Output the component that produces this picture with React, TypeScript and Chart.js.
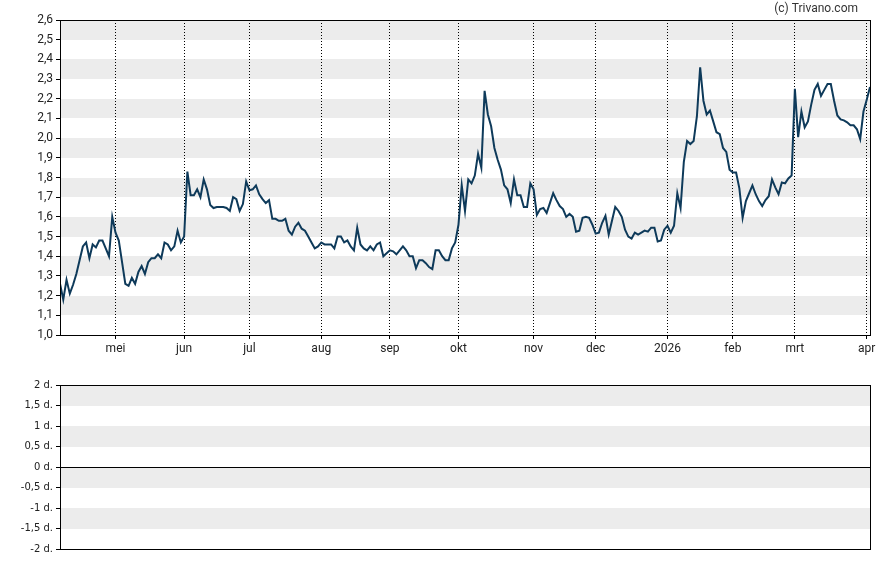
import React, { useEffect, useRef } from "react";
import { Chart, registerables } from "chart.js";

Chart.register(...registerables);

// Closing values, one per trading day (index 0 .. 248)
const closes: number[] = [
  // 0-9
  1.26, 1.18, 1.28, 1.21, 1.255, 1.31, 1.38, 1.45, 1.47, 1.39,
  // 10-19
  1.46, 1.445, 1.48, 1.48, 1.44, 1.40, 1.60, 1.52, 1.48, 1.37,
  // 20-29
  1.26, 1.25, 1.29, 1.26, 1.32, 1.35, 1.31, 1.37, 1.39, 1.39,
  // 30-39
  1.41, 1.39, 1.47, 1.46, 1.43, 1.45, 1.53, 1.47, 1.50, 1.83,
  // 40-49
  1.71, 1.71, 1.74, 1.70, 1.79, 1.74, 1.66, 1.645, 1.65, 1.65,
  // 50-59
  1.65, 1.645, 1.63, 1.70, 1.69, 1.63, 1.665, 1.78, 1.735, 1.74,
  // 60-69
  1.76, 1.715, 1.69, 1.67, 1.685, 1.59, 1.59, 1.58, 1.58, 1.59,
  // 70-79
  1.53, 1.51, 1.55, 1.57, 1.54, 1.53, 1.50, 1.47, 1.44, 1.45,
  // 80-89
  1.47, 1.46, 1.46, 1.46, 1.44, 1.50, 1.50, 1.47, 1.48, 1.45,
  // 90-99
  1.43, 1.545, 1.46, 1.44, 1.43, 1.45, 1.43, 1.46, 1.47, 1.40,
  // 100-109
  1.415, 1.43, 1.425, 1.41, 1.43, 1.45, 1.43, 1.40, 1.40, 1.34,
  // 110-119
  1.38, 1.38, 1.365, 1.345, 1.335, 1.43, 1.43, 1.40, 1.38, 1.38,
  // 120-129
  1.44, 1.47, 1.56, 1.76, 1.63, 1.79, 1.77, 1.81, 1.92, 1.85,
  // 130-139
  2.24, 2.12, 2.06, 1.95, 1.89, 1.84, 1.76, 1.74, 1.67, 1.79,
  // 140-149
  1.71, 1.71, 1.65, 1.65, 1.77, 1.74, 1.61, 1.64, 1.645, 1.62,
  // 150-159
  1.67, 1.72, 1.685, 1.655, 1.64, 1.60, 1.615, 1.60, 1.525, 1.53,
  // 160-169
  1.595, 1.60, 1.595, 1.56, 1.515, 1.52, 1.57, 1.605, 1.51, 1.58,
  // 170-179
  1.65, 1.63, 1.60, 1.535, 1.50, 1.49, 1.52, 1.51, 1.52, 1.53,
  // 180-189
  1.525, 1.545, 1.545, 1.475, 1.48, 1.535, 1.555, 1.52, 1.555, 1.72,
  // 190-199
  1.645, 1.88, 1.985, 1.97, 1.985, 2.11, 2.36, 2.19, 2.12, 2.14,
  // 200-209
  2.085, 2.03, 2.02, 1.95, 1.93, 1.84, 1.825, 1.825, 1.745, 1.595,
  // 210-219
  1.68, 1.72, 1.76, 1.715, 1.68, 1.655, 1.685, 1.705, 1.79, 1.75,
  // 220-229
  1.715, 1.775, 1.77, 1.795, 1.81, 2.25, 2.005, 2.135, 2.055, 2.085,
  // 230-239
  2.17, 2.245, 2.275, 2.215, 2.245, 2.275, 2.275, 2.19, 2.115, 2.095,
  // 240-248
  2.09, 2.08, 2.065, 2.065, 2.045, 1.995, 2.135, 2.195, 2.26,
];

// First trading day of each month (index into closes) and its label
const monthStarts: number[] = [17, 38, 58, 80, 101, 122, 145, 164, 186, 206, 225, 247];
const monthLabels: string[] = ["mei", "jun", "jul", "aug", "sep", "okt", "nov", "dec", "2026", "feb", "mrt", "apr"];

// Price axis
const priceMin = 1.0;
const priceMax = 2.6;
const priceStep = 0.1;

// Lower panel axis
const lowerMin = -2;
const lowerMax = 2;
const lowerStep = 0.5;

const copyright = "(c) Trivano.com";

const LINE_COLOR = "#0e3a5a";
const BAND_COLOR = "#ececec";
const TEXT_COLOR = "#222";

const bandsPlugin = {
  id: "bands",
  beforeDraw(chart: any) {
    const { ctx, chartArea } = chart;
    const y = chart.scales.y;
    const ticks = y.ticks;
    ctx.save();
    ctx.fillStyle = BAND_COLOR;
    for (let k = 1; k < ticks.length - 1; k += 2) {
      const a = Math.round(y.getPixelForValue(ticks[k].value));
      const b = Math.round(y.getPixelForValue(ticks[k + 1].value));
      ctx.fillRect(chartArea.left, b, chartArea.right - chartArea.left, a - b);
    }
    ctx.restore();
  },
};

const borderPlugin = {
  id: "frame",
  afterDraw(chart: any) {
    const { ctx, chartArea } = chart;
    ctx.save();
    ctx.strokeStyle = "#000";
    ctx.lineWidth = 1;
    ctx.strokeRect(
      Math.round(chartArea.left) + 0.5,
      Math.round(chartArea.top) + 0.5,
      Math.round(chartArea.right) - Math.round(chartArea.left),
      Math.round(chartArea.bottom) - Math.round(chartArea.top)
    );
    ctx.restore();
  },
};

const copyrightPlugin = {
  id: "copyright",
  afterDraw(chart: any) {
    const { ctx, chartArea } = chart;
    ctx.save();
    ctx.font = "12px Roboto";
    ctx.fillStyle = "#333";
    ctx.textAlign = "right";
    ctx.textBaseline = "middle";
    ctx.fillText(copyright, chartArea.right - 12, 9);
    ctx.restore();
  },
};

const fmtComma = (v: number, digits: number) =>
  Number(v).toFixed(digits).replace(".", ",");

function PriceChart() {
  const ref = useRef<HTMLCanvasElement | null>(null);
  useEffect(() => {
    if (!ref.current) return;
    const chart = new Chart(ref.current, {
      type: "line",
      data: {
        datasets: [
          {
            data: closes.map((v, i) => ({ x: i, y: v })),
            borderColor: LINE_COLOR,
            borderWidth: 2,
            pointRadius: 0,
            tension: 0,
            fill: false,
          },
        ],
      },
      options: {
        animation: false,
        responsive: false,
        maintainAspectRatio: false,
        layout: { padding: { top: 20, right: 18, left: 0, bottom: 0 } },
        plugins: { legend: { display: false }, tooltip: { enabled: false } },
        scales: {
          x: {
            type: "linear",
            min: 0,
            max: closes.length - 1,
            afterBuildTicks: (scale: any) => {
              scale.ticks = monthStarts.map((v) => ({ value: v }));
            },
            afterFit: (scale: any) => {
              scale.height = 30;
            },
            ticks: {
              autoSkip: false,
              maxRotation: 0,
              color: TEXT_COLOR,
              font: { family: "Roboto", size: 12 },
              padding: 3,
              callback: (_v: any, i: number) => monthLabels[i] ?? "",
            },
            grid: {
              color: "#000",
              lineWidth: 1,
              drawTicks: true,
              tickLength: 4,
              tickColor: "#000",
            },
            border: { display: false, dash: [1, 2] },
          },
          y: {
            type: "linear",
            min: priceMin,
            max: priceMax,
            afterFit: (scale: any) => {
              scale.width = 60;
            },
            ticks: {
              stepSize: priceStep,
              color: TEXT_COLOR,
              font: { family: "Roboto", size: 12 },
              padding: 3,
              callback: (v: any) => fmtComma(v, 1),
            },
            grid: {
              drawOnChartArea: false,
              drawTicks: true,
              tickLength: 4,
              color: "#000",
            },
            border: { display: false },
          },
        },
      },
      plugins: [bandsPlugin, borderPlugin, copyrightPlugin],
    } as any);
    return () => chart.destroy();
  }, []);
  return <canvas ref={ref} width={888} height={365} style={{ display: "block" }} />;
}

function LowerChart() {
  const ref = useRef<HTMLCanvasElement | null>(null);
  useEffect(() => {
    if (!ref.current) return;
    const chart = new Chart(ref.current, {
      type: "line",
      data: { datasets: [{ data: [] }] },
      options: {
        animation: false,
        responsive: false,
        maintainAspectRatio: false,
        layout: { padding: { top: 20, right: 18, left: 0, bottom: 16 } },
        plugins: { legend: { display: false }, tooltip: { enabled: false } },
        scales: {
          x: {
            type: "linear",
            min: 0,
            max: closes.length - 1,
            display: false,
          },
          y: {
            type: "linear",
            min: lowerMin,
            max: lowerMax,
            afterFit: (scale: any) => {
              scale.width = 60;
            },
            ticks: {
              stepSize: lowerStep,
              color: TEXT_COLOR,
              font: { family: "DejaVu Sans", size: 10 },
              padding: 3,
              callback: (v: any) => {
                const n = Number(v);
                const s = Number.isInteger(n) ? String(n) : fmtComma(n, 1);
                return s + " d.";
              },
            },
            grid: {
              drawTicks: true,
              tickLength: 4,
              tickColor: "#000",
              color: (ctx: any) => (ctx.tick && ctx.tick.value === 0 ? "#000" : "rgba(0,0,0,0)"),
            },
            border: { display: false },
          },
        },
      },
      plugins: [bandsPlugin, borderPlugin],
    } as any);
    return () => chart.destroy();
  }, []);
  return <canvas ref={ref} width={888} height={200} style={{ display: "block" }} />;
}

export default function App() {
  return (
    <div style={{ position: "absolute", left: 0, top: 0, width: 888, height: 565, background: "#fff" }}>
      <PriceChart />
      <LowerChart />
    </div>
  );
}
